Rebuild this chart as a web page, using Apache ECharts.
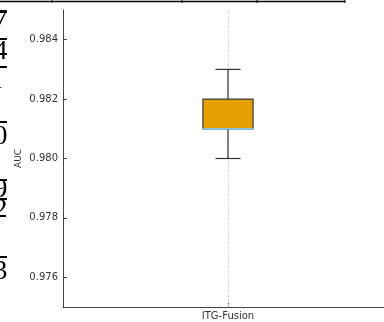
<!DOCTYPE html>
<html>
<head>
<meta charset="utf-8">
<script src="https://cdn.jsdelivr.net/npm/echarts@6/dist/echarts.min.js"></script>
<style>html,body{margin:0;padding:0;background:#fff}#c{width:384px;height:322px}</style>
</head>
<body>
<div id="c"></div>
<script>
var categories = ['ITG-Fusion'];
var boxMin = [0.980];
var boxQ1 = [0.981];
var boxMedian = [0.981];
var boxQ3 = [0.982];
var boxMax = [0.983];
var yTicks = [0.976, 0.978, 0.980, 0.982, 0.984];
// cropped table fragment at the left edge
var tableDigits = ['7', '4', '1', '0', '9', '2', '3'];
var tableDigitY = [21, 52, 81, 137, 190, 210, 272];
var tableRuleY = [12, 39, 67, 122, 180, 199, 257];

var chart = echarts.init(document.getElementById('c'), null, {renderer: 'canvas'});

var data = categories.map(function (c, i) {
  return [i, boxMin[i], boxQ1[i], boxMedian[i], boxQ3[i], boxMax[i]];
});

var graphics = [];
graphics.push({type: 'line', shape: {x1: 0, y1: 1.5, x2: 345, y2: 1.5}, style: {stroke: '#000', lineWidth: 1.5}, silent: true});
[52, 182, 257, 345].forEach(function (x) {
  graphics.push({type: 'line', shape: {x1: x, y1: 0, x2: x, y2: 3}, style: {stroke: '#000', lineWidth: 1}, silent: true});
});
tableRuleY.forEach(function (y) {
  graphics.push({type: 'line', shape: {x1: 0, y1: y, x2: 7, y2: y}, style: {stroke: '#000', lineWidth: 2}, silent: true});
});
tableDigits.forEach(function (d, i) {
  graphics.push({type: 'text', x: d === '1' ? 3 : 7.5, y: tableDigitY[i], silent: true,
    style: {text: d, fill: '#000', font: '28px "Liberation Serif", "DejaVu Serif", serif', align: 'right', verticalAlign: 'middle'}});
});

chart.setOption({
  animation: false,
  backgroundColor: '#fff',
  graphic: graphics,
  grid: {left: 63, width: 330, top: 10, bottom: 15, outerBoundsMode: 'none', containLabel: false},
  xAxis: {
    type: 'category',
    data: categories,
    axisLine: {show: true, lineStyle: {color: '#444', width: 1}},
    axisTick: {show: true, inside: true, alignWithLabel: true, length: 4, lineStyle: {color: '#444'}},
    axisLabel: {color: '#333', fontSize: 10, margin: 4, fontFamily: 'DejaVu Sans'},
    splitLine: {show: false}
  },
  yAxis: {
    type: 'value',
    min: 0.975,
    max: 0.985,
    name: 'AUC',
    nameLocation: 'middle',
    nameGap: 40,
    nameMoveOverlap: false,
    nameTextStyle: {color: '#333', fontSize: 9, fontFamily: 'DejaVu Sans'},
    axisLine: {show: true, lineStyle: {color: '#444', width: 1}},
    axisTick: {show: true, inside: true, length: 4, lineStyle: {color: '#444'}, customValues: yTicks},
    axisLabel: {color: '#333', fontSize: 10, margin: 5, fontFamily: 'DejaVu Sans',
      customValues: yTicks, formatter: function (v) { return v.toFixed(3); }},
    splitLine: {show: false}
  },
  series: [{
    type: 'custom',
    data: data,
    encode: {x: 0, y: [1, 2, 3, 4, 5]},
    renderItem: function (params, api) {
      var idx = api.value(0);
      var band = api.size([1, 0])[0];
      var boxW = band * 0.152;
      var capW = band * 0.076;
      var pMin = api.coord([idx, api.value(1)]);
      var pQ1 = api.coord([idx, api.value(2)]);
      var pMed = api.coord([idx, api.value(3)]);
      var pQ3 = api.coord([idx, api.value(4)]);
      var pMax = api.coord([idx, api.value(5)]);
      var x = pQ1[0];
      var wStyle = {stroke: '#333', lineWidth: 1.2};
      return {
        type: 'group',
        children: [
          {type: 'line', shape: {x1: x, y1: pMax[1], x2: x, y2: pQ3[1]}, style: wStyle},
          {type: 'line', shape: {x1: x, y1: pQ1[1], x2: x, y2: pMin[1]}, style: wStyle},
          {type: 'line', shape: {x1: x - capW / 2, y1: pMax[1], x2: x + capW / 2, y2: pMax[1]}, style: wStyle},
          {type: 'line', shape: {x1: x - capW / 2, y1: pMin[1], x2: x + capW / 2, y2: pMin[1]}, style: wStyle},
          {type: 'rect', shape: {x: x - boxW / 2, y: pQ3[1], width: boxW, height: pQ1[1] - pQ3[1]},
            style: {fill: '#E69F00', stroke: '#3d3d3d', lineWidth: 1.2}},
          {type: 'line', shape: {x1: x - boxW / 2, y1: pMed[1], x2: x + boxW / 2, y2: pMed[1]},
            style: {stroke: '#7EC8E3', lineWidth: 1.5}}
        ]
      };
    },
    markLine: {
      silent: true,
      symbol: 'none',
      label: {show: false},
      lineStyle: {color: '#cccccc', type: 'dashed', width: 0.8},
      data: [{xAxis: 'ITG-Fusion'}],
      z: 1
    },
    z: 3
  }]
});
</script>
</body>
</html>
